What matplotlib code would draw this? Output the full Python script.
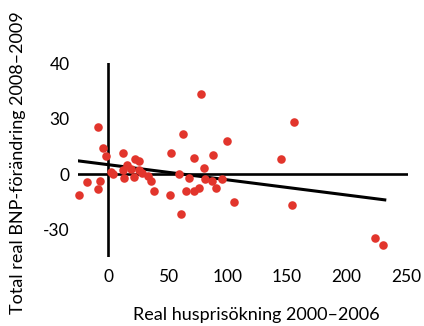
import numpy as np
import matplotlib
matplotlib.use("Agg")
import matplotlib.pyplot as plt

# house price growth 2000-2006 (x) vs real GDP change 2008-2009 (y)
house_price = [-24.9, -18.2, -8.4, -6.7, -8.4, -4.2, -1.7, 2.5, 3.9, 12.0,
               12.8, 12.6, 15.9, 19.3, 22.7, 25.4, 21.2, 26.0, 27.9, 33.4,
               35.5, 38.3, 52.7, 52.0, 62.8, 77.9, 99.8, 71.8, 87.7, 79.9,
               59.0, 67.6, 80.8, 86.7, 95.0, 90.2, 76.2, 71.7, 65.1, 105.4,
               60.7, 144.5, 155.5, 153.8, 223.4, 230.7]
gdp_change = [-11.3, -4.3, -7.7, -3.4, 25.4, 14.2, 9.8, 1.1, 0.4, 11.3,
              -2.2, 2.5, 4.8, 3.1, 8.3, 7.3, -1.2, 2.5, 0.5, -0.7,
              -3.4, -9.0, 11.4, -11.1, 21.5, 43.5, 17.7, 8.9, 10.5, 3.4,
              0.2, -1.9, -2.5, -3.4, -2.5, -7.4, -7.3, -9.0, -8.9, -14.7,
              -21.3, 8.2, 28.1, -16.8, -34.4, -38.3]

# trend line end points
trend_x = [-24.9, 232.0]
trend_y = [7.2, -13.8]

x_ticks = [0, 50, 100, 150, 200, 250]
y_ticks = [60, 30, 0, -30]
y_tick_labels = ["40", "30", "0", "-30"]

plt.rcParams['font.family'] = ['Lato', 'DejaVu Sans']

fig = plt.figure(figsize=(4.24, 3.26), dpi=100)
ax = fig.add_axes([78 / 424, 1 - 257 / 326, 330 / 424, 194 / 326])

ax.axhline(0, color="black", lw=1.9, zorder=1)
ax.axvline(0, color="black", lw=1.9, zorder=1)
ax.plot(trend_x, trend_y, color="black", lw=2.2, zorder=2)
ax.scatter(house_price, gdp_change, s=38, color="#e2352c", linewidths=0,
           zorder=3, clip_on=False)

ax.set_xlim(-25.5, 251.5)
ax.set_ylim(-44.6, 59.7)

for s in ax.spines.values():
    s.set_visible(False)

ax.set_xticks(x_ticks)
ax.set_yticks(y_ticks)
ax.set_yticklabels(y_tick_labels)
ax.tick_params(length=0, labelsize=12.5, colors="black")
ax.tick_params(axis="x", pad=9)
ax.tick_params(axis="y", pad=6)

ax.set_xlabel("Real husprisökning 2000–2006", fontsize=13)
ax.set_ylabel("Total real BNP-förändring 2008–2009", fontsize=13)
ax.xaxis.set_label_coords(0.539, -0.297)
ax.yaxis.set_label_coords(-0.182, 0.485)
ax.xaxis.label.set_va("center")
ax.yaxis.label.set_va("center")

fig.savefig("out.png", dpi=100)
